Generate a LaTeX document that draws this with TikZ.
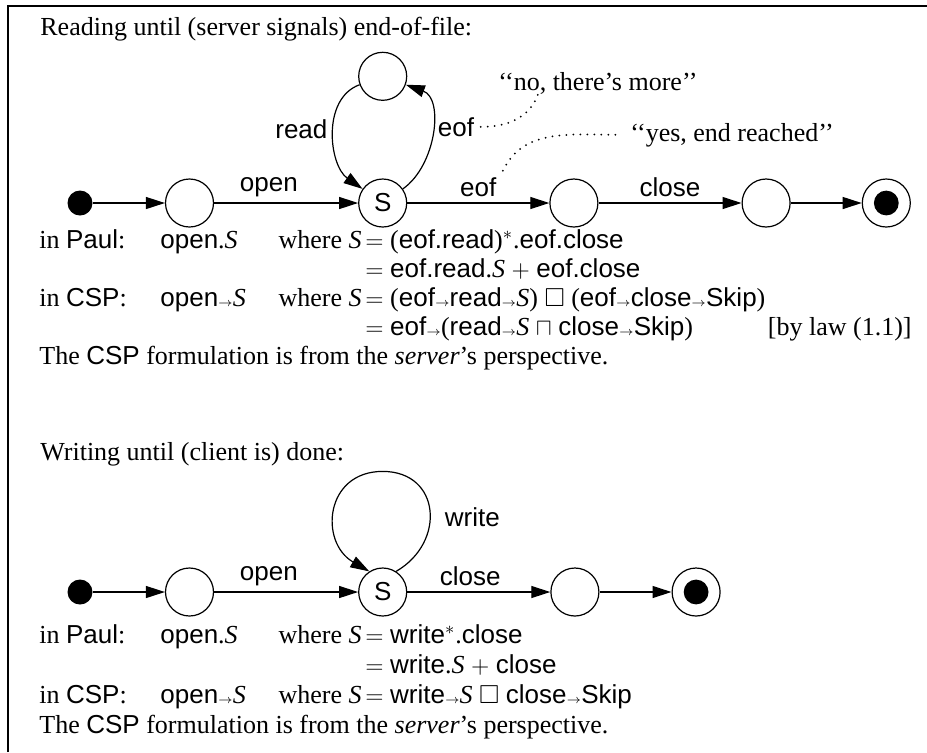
\documentclass[tikz,border=0pt]{standalone}
\usepackage{amssymb}
\usepackage{fontspec}
\setmainfont{Liberation Serif}
\setsansfont{Liberation Sans}
\usetikzlibrary{positioning}
\usetikzlibrary{arrows.meta}
\newcommand{\thn}{\ensuremath{\mathord{\scriptscriptstyle\rightarrow}}}
\newcommand{\St}{\textit{S}}
\tikzset{state/.style={circle,draw,line width=0.6pt,minimum size=24pt,inner sep=0pt,font=\sffamily\fontsize{13}{15}\selectfont},
  initial dot/.style={circle,fill,minimum size=12.5pt,inner sep=0pt},
  final dot/.style={state,path picture={\fill (path picture bounding box.center) circle (6.2pt);}},
  trans/.style={-{Triangle[length=9.5pt,width=6pt]},line width=0.6pt},
  lbl/.style={font=\sffamily\fontsize{13}{15}\selectfont,inner sep=3pt},
  note/.style={line width=1pt,dash pattern=on 0pt off 3.5pt,line cap=round},
  txt/.style={anchor=base west,inner sep=0pt,font=\fontsize{13}{15}\selectfont},}

\begin{document}
\begin{tikzpicture}[x=0.5pt,y=0.5pt,auto,node distance=72pt]
	\useasboundingbox (0,0) rectangle (927,-752);
	\draw[line width=1.2pt] (8,-752) -- (8,-6) -- (927,-6);

	% reading until end-of-file
	\node[txt] (title1) at (40,-35) {Reading until (server signals) end-of-file:};
	\node[initial dot] (r0) at (80,-203) {};
	\node[state] (r1) [right=36pt of r0] {};
	\node[state] (rS) [right=of r1] {S};
	\node[state] (rT) [above=38.75pt of rS] {};
	\node[state] (r3) [right=71pt of rS] {};
	\node[state] (r4) [right=71.5pt of r3] {};
	\node[final dot] (r5) [right=35.5pt of r4] {};

	\path[trans]
	(r0) edge (r1)
	(r1) edge node[lbl,pos=0.38] {open} (rS)
	(rT) edge [out=200,in=145] node[lbl,swap,pos=0.47] {read} (rS)
	(rS) edge [out=35,in=-20] node[lbl,swap,pos=0.55] (eofa) {eof} (rT)
	(rS) edge node[lbl] (eofb) {eof} (r3)
	(r3) edge node[lbl] {close} (r4)
	(r4) edge (r5);

	\node[txt] (more) at (498,-90) {‘‘no, there’s more’’};
	\node[txt] (reached) at (630,-141) {‘‘yes, end reached’’};
	\draw[note] (eofa.east) to[out=0,in=-110] ([xshift=20pt]more.south west);
	\draw[note] (eofb.north east) to[out=65,in=180] ([xshift=-6pt]reached.west);

	\node[txt] (rpaul) at (39,-248) {in \textsf{Paul}:};
	\node[txt] (rpaul1) at (160,-248) {\textsf{open}.\St};
	\node[txt,anchor=base east] (rpaul2) at (362,-248) {where \St};
	\node[txt] (rpaul3) at (365,-248) {\(=\) (\textsf{eof.read})\(^{*}\).\textsf{eof.close}};
	\node[txt] (rpaul4) at (365,-277) {\(=\) \textsf{eof.read}.\St{} \(+\) \textsf{eof.close}};
	\node[txt] (rcsp) at (39,-306) {in \textsf{CSP}:};
	\node[txt] (rcsp1) at (160,-306) {\textsf{open}\thn\St};
	\node[txt,anchor=base east] (rcsp2) at (362,-306) {where \St};
	\node[txt] (rcsp3) at (365,-306) {\(=\) (\textsf{eof}\thn\textsf{read}\thn\St) \(\square\) (\textsf{eof}\thn\textsf{close}\thn\textsf{Skip})};
	\node[txt] (rcsp4) at (365,-335) {\(=\) \textsf{eof}\thn(\textsf{read}\thn\St{} \(\sqcap\) \textsf{close}\thn\textsf{Skip})};
	\node[txt,anchor=base east] (rlaw) at (912,-335) {[by law (1.1)]};
	\node[txt] (rnote) at (39,-364) {The \textsf{CSP} formulation is from the \textit{server}’s perspective.};

	% writing until done
	\node[txt] (title2) at (40,-460) {Writing until (client is) done:};
	\node[initial dot] (w0) at (80,-592) {};
	\node[state] (w1) [right=36pt of w0] {};
	\node[state] (wS) [right=of w1] {S};
	\node[state] (w3) [right=71.5pt of wS] {};
	\node[final dot] (w4) [right=36pt of w3] {};
	\coordinate[above=48pt of wS] (wtop);

	\path[trans]
	(w0) edge (w1)
	(w1) edge node[lbl,pos=0.38] {open} (wS)
	(wS) edge node[lbl,pos=0.44] {close} (w3)
	(w3) edge (w4);
	\draw[trans] (wS.57) to[out=30,in=0,distance=29pt] node[lbl,pos=0.45,right=4pt] {write} (wtop)
		to[out=180,in=150,distance=29pt] (wS.123);

	\node[txt] (wpaul) at (39,-643) {in \textsf{Paul}:};
	\node[txt] (wpaul1) at (160,-643) {\textsf{open}.\St};
	\node[txt,anchor=base east] (wpaul2) at (362,-643) {where \St};
	\node[txt] (wpaul3) at (365,-643) {\(=\) \textsf{write}\(^{*}\).\textsf{close}};
	\node[txt] (wpaul4) at (365,-673) {\(=\) \textsf{write}.\St{} \(+\) \textsf{close}};
	\node[txt] (wcsp) at (39,-703) {in \textsf{CSP}:};
	\node[txt] (wcsp1) at (160,-703) {\textsf{open}\thn\St};
	\node[txt,anchor=base east] (wcsp2) at (362,-703) {where \St};
	\node[txt] (wcsp3) at (365,-703) {\(=\) \textsf{write}\thn\St{} \(\square\) \textsf{close}\thn\textsf{Skip}};
	\node[txt] (wnote) at (39,-733) {The \textsf{CSP} formulation is from the \textit{server}’s perspective.};
\end{tikzpicture}
\end{document}
